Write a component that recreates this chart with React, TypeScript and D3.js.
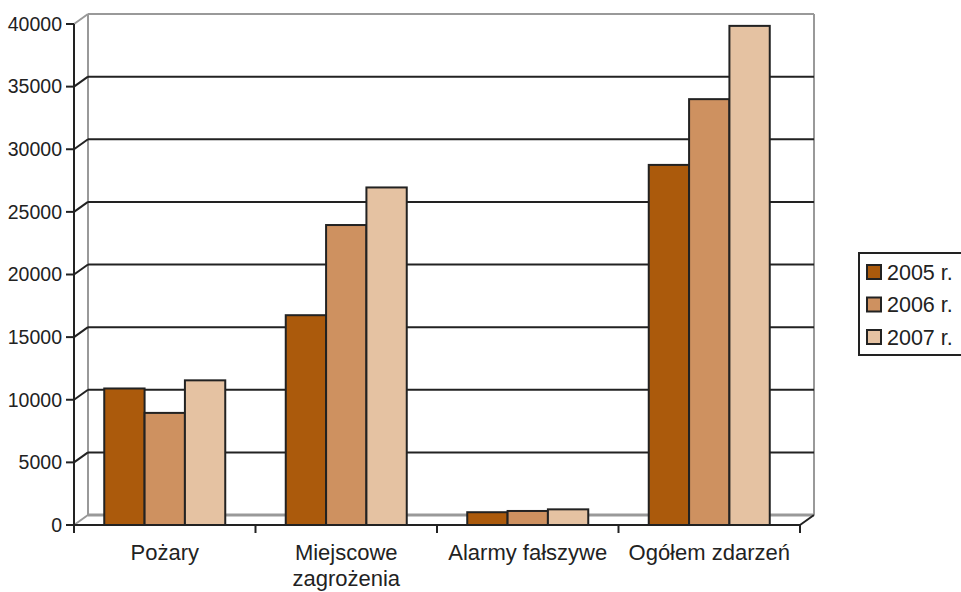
import React from "react";
import * as d3 from "d3";

const categories = ["Pożary", "Miejscowe\nzagrożenia", "Alarmy fałszywe", "Ogółem zdarzeń"];
const seriesNames = ["2005 r.", "2006 r.", "2007 r."];
const values2005 = [10900, 16750, 1020, 28750];
const values2006 = [8950, 23950, 1120, 34000];
const values2007 = [11550, 26950, 1250, 39850];
const yTicks = [0, 5000, 10000, 15000, 20000, 25000, 30000, 35000, 40000];
const colors = ["#AB5A0C", "#CE9160", "#E5C2A2"];

const W = 961;
const H = 592;
const left = 74;
const right = 800;
const bottom = 525;
const top = 24;
const dx = 14;
const dy = -10;

export default function App() {
  const series = [values2005, values2006, values2007];
  const y = d3.scaleLinear().domain([0, 40000]).range([bottom, top]);
  const x0 = d3.scaleBand<number>().domain(d3.range(categories.length)).range([left, right]).paddingInner(0).paddingOuter(0);
  const bw = x0.bandwidth();
  const x1 = d3.scaleBand<number>().domain([0, 1, 2]).range([0, bw]).paddingInner(0).paddingOuter(0.75);
  const font = "Liberation Sans, Arial, sans-serif";
  return (
    <svg width={W} height={H} style={{ position: "absolute", left: 0, top: 0, background: "#fff" }} fontFamily={font}>
      {/* back wall */}
      <line x1={left + dx} x2={right + dx} y1={y(40000) + dy} y2={y(40000) + dy} stroke="#999" strokeWidth={2} />
      <line x1={left + dx} x2={left + dx} y1={y(40000) + dy} y2={y(0) + dy} stroke="#999" strokeWidth={2} />
      <line x1={right + dx} x2={right + dx} y1={y(40000) + dy} y2={y(0) + dy} stroke="#999" strokeWidth={2} />
      <line x1={left + dx} x2={right + dx} y1={y(0) + dy} y2={y(0) + dy} stroke="#999" strokeWidth={3} />
      <line x1={left} x2={left + dx} y1={y(0)} y2={y(0) + dy} stroke="#999" strokeWidth={2} />
      <line x1={left} x2={left + dx} y1={y(40000)} y2={y(40000) + dy} stroke="#999" strokeWidth={2} />
      {/* gridlines */}
      {yTicks.filter((t) => t > 0 && t < 40000).map((t) => (
        <g key={t}>
          <line x1={left + dx} x2={right + dx} y1={y(t) + dy} y2={y(t) + dy} stroke="#222" strokeWidth={2} />
          <line x1={left} x2={left + dx} y1={y(t)} y2={y(t) + dy} stroke="#222" strokeWidth={2} />
        </g>
      ))}
      {/* bars */}
      {categories.map((c, i) => (
        <g key={c} transform={`translate(${x0(i)},0)`}>
          {series.map((s, j) => (
            <rect
              key={j}
              x={x1(j)}
              y={y(s[i])}
              width={x1.bandwidth()}
              height={y(0) - y(s[i])}
              fill={colors[j]}
              stroke="#222"
              strokeWidth={2}
            />
          ))}
        </g>
      ))}
      {/* axes */}
      <line x1={left} x2={left} y1={y(40000)} y2={bottom + 8} stroke="#222" strokeWidth={2} />
      <line x1={left} x2={right} y1={bottom} y2={bottom} stroke="#222" strokeWidth={2} />
      <line x1={right} x2={right + dx} y1={bottom} y2={bottom + dy} stroke="#222" strokeWidth={2} />
      {d3.range(categories.length + 1).map((i) => {
        const xx = left + i * bw;
        return <line key={i} x1={xx} x2={xx} y1={bottom} y2={bottom + 8} stroke="#222" strokeWidth={2} />;
      })}
      {yTicks.map((t) => (
        <g key={t}>
          <line x1={left - 8} x2={left} y1={y(t)} y2={y(t)} stroke="#222" strokeWidth={2} />
          <text x={left - 12} y={y(t)} dy="0.35em" textAnchor="end" fontSize={19.5} fill="#222">
            {t}
          </text>
        </g>
      ))}
      {categories.map((c, i) => (
        <text key={c} x={(x0(i) as number) + bw / 2} y={560} textAnchor="middle" fontSize={22} fill="#222">
          {c.split("\n").map((line, k) => (
            <tspan key={k} x={(x0(i) as number) + bw / 2} dy={k === 0 ? 0 : 25.5}>
              {line}
            </tspan>
          ))}
        </text>
      ))}
      {/* legend */}
      <rect x={859} y={253} width={120} height={102} fill="#fff" stroke="#222" strokeWidth={2} />
      {seriesNames.map((n, j) => (
        <g key={n} transform={`translate(0,${272 + j * 32.5})`}>
          <rect x={867} y={-7} width={14} height={14} fill={colors[j]} stroke="#222" strokeWidth={2} />
          <text x={887} y={0} dy="0.36em" fontSize={21.5} fill="#222">
            {n}
          </text>
        </g>
      ))}
    </svg>
  );
}
